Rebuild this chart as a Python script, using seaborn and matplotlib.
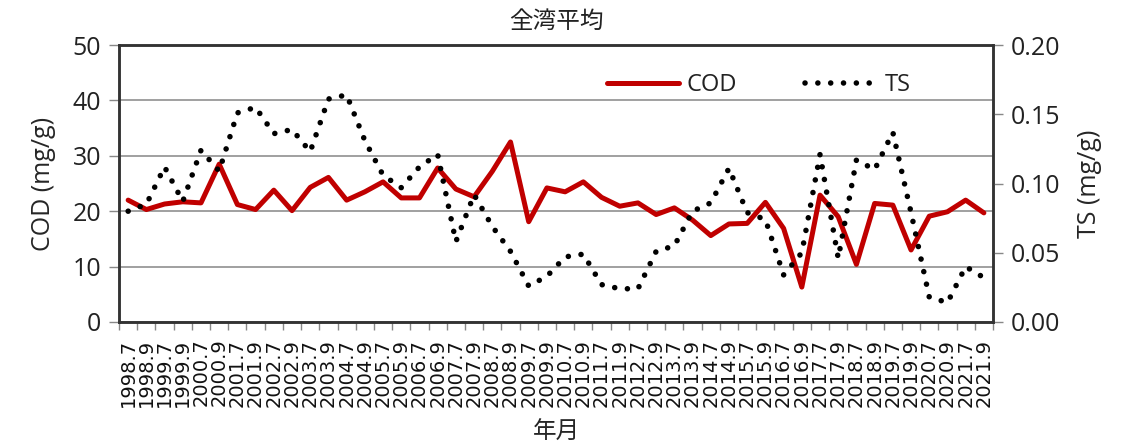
import numpy as np
import pandas as pd
import seaborn as sns
import matplotlib.pyplot as plt

periods = ["1998.7", "1998.9", "1999.7", "1999.9", "2000.7", "2000.9", "2001.7", "2001.9",
           "2002.7", "2002.9", "2003.7", "2003.9", "2004.7", "2004.9", "2005.7", "2005.9",
           "2006.7", "2006.9", "2007.7", "2007.9", "2008.7", "2008.9", "2009.7", "2009.9",
           "2010.7", "2010.9", "2011.7", "2011.9", "2012.7", "2012.9", "2013.7", "2013.9",
           "2014.7", "2014.9", "2015.7", "2015.9", "2016.7", "2016.9", "2017.7", "2017.9",
           "2018.7", "2018.9", "2019.7", "2019.9", "2020.7", "2020.9", "2021.7", "2021.9"]

cod = [22.0, 20.3, 21.3, 21.7, 21.5, 28.5, 21.2, 20.3, 23.8, 20.1, 24.3, 26.1,
       22.0, 23.5, 25.3, 22.4, 22.4, 27.8, 24.0, 22.6, 27.2, 32.5, 18.1, 24.2,
       23.5, 25.3, 22.5, 20.9, 21.5, 19.4, 20.6, 18.4, 15.6, 17.7, 17.8, 21.6,
       16.9, 6.3, 22.9, 19.0, 10.4, 21.4, 21.1, 13.0, 19.1, 19.9, 22.0, 19.7]

ts = [0.080, 0.085, 0.112, 0.087, 0.124, 0.109, 0.151, 0.155, 0.136, 0.139, 0.123, 0.161,
      0.164, 0.131, 0.106, 0.097, 0.112, 0.121, 0.058, 0.092, 0.069, 0.051, 0.026, 0.033,
      0.047, 0.049, 0.027, 0.024, 0.024, 0.051, 0.055, 0.080, 0.086, 0.111, 0.079, 0.074,
      0.034, 0.050, 0.121, 0.046, 0.117, 0.110, 0.137, 0.079, 0.018, 0.014, 0.040, 0.032]

df = pd.DataFrame({"idx": np.arange(len(periods)), "COD": cod, "TS": ts})

sns.set_style("white")
plt.rcParams['font.family'] = ['Open Sans', 'Noto Sans CJK JP', 'DejaVu Sans']
plt.rcParams['text.color'] = '#222222'
cjk = ['Noto Sans CJK JP', 'DejaVu Sans']

fig = plt.figure(figsize=(11.21, 4.44), dpi=100)
ax = fig.add_axes([0.1062, 0.2748, 0.7796, 0.6238])
ax2 = ax.twinx()

sns.lineplot(data=df, x="idx", y="COD", ax=ax, color="#c00000", linewidth=3.6,
             label="COD", legend=False)
sns.lineplot(data=df, x="idx", y="TS", ax=ax2, color="black", linewidth=4.0,
             linestyle=(0, (0.01, 2.3)), dash_capstyle='round', label="TS", legend=False)

# 左軸
ax.set_ylim(0, 50)
ax.set_yticks(range(0, 51, 10))
ax.yaxis.grid(True, color="#999999", linewidth=1.3)
ax.set_axisbelow(True)
ax.set_ylabel("COD (mg/g)", fontsize=18, labelpad=12)
ax.tick_params(axis='y', labelsize=18, labelcolor='#222222', length=7, width=1,
               color="#888888", direction='out', left=True, pad=6)

# 右軸
ax2.set_ylim(0, 0.20)
ax2.set_yticks(np.arange(0, 0.201, 0.05))
ax2.set_yticklabels([f"{v:.2f}" for v in np.arange(0, 0.201, 0.05)])
ax2.set_ylabel("TS (mg/g)", fontsize=18, labelpad=12)
ax2.tick_params(axis='y', labelsize=18, labelcolor='#222222', length=7, width=1,
                color="#888888", direction='out', right=True, pad=6)
ax2.grid(False)

# x軸
ax.set_xlim(-0.5, len(periods) - 0.5)
ax.set_xticks(df["idx"])
ax.set_xticklabels(periods, rotation=90, fontsize=14, color='#111111', family='DejaVu Sans')
ax.set_xticks(np.arange(-0.5, len(periods), 1.0), minor=True)
ax.tick_params(axis='x', which='major', length=0, pad=12)
ax.tick_params(axis='x', which='minor', length=6, width=1, color="#888888", direction='out', bottom=True)
ax.set_xlabel("年月", fontsize=17, family=cjk, labelpad=10)

for a in (ax, ax2):
    for s in a.spines.values():
        s.set_color("#333333")
        s.set_linewidth(1.8)

ax.set_title("全湾平均", fontsize=17, family=cjk, pad=12)

h1, l1 = ax.get_legend_handles_labels()
h2, l2 = ax2.get_legend_handles_labels()
ax2.legend(h1 + h2, l1 + l2, loc="upper right", bbox_to_anchor=(0.93, 0.975), ncol=2,
           frameon=False, fontsize=17, handlelength=3.05, columnspacing=2.9, handletextpad=0.3)

fig.savefig("out.png", dpi=100)
